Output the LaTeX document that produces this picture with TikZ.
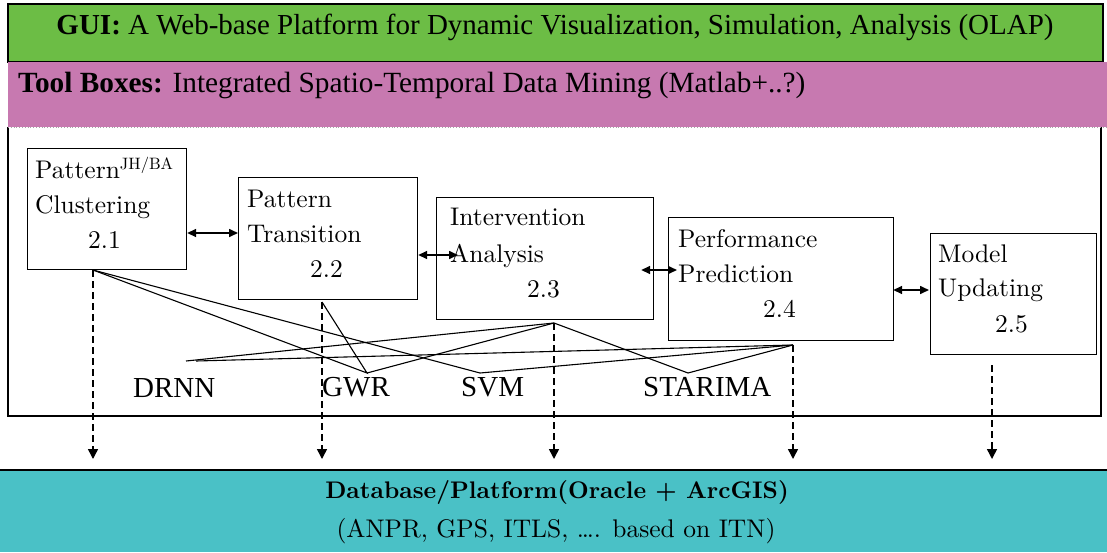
\documentclass[tikz,border=0pt]{standalone}
\usepackage{fontspec}
\setmainfont[Extension=.otf, BoldFont=lmroman10-bold, ItalicFont=lmroman10-italic]{lmroman10-regular}
\newfontfamily\tms{Liberation Serif}
\usetikzlibrary{arrows.meta,calc}
\definecolor{guigreen}{RGB}{108,189,69}
\definecolor{toolpink}{RGB}{199,121,176}
\definecolor{dbteal}{RGB}{74,193,198}
\begin{document}
\begin{tikzpicture}[x=1pt,y=-1pt,
  modbox/.style={draw=black, line width=1.2pt, inner sep=0pt, anchor=north west},
  boxtxt/.style={anchor=base west, inner sep=0pt, font=\fontsize{25.5}{30}\selectfont},
  methtxt/.style={anchor=base west, inner sep=0pt, font=\tms\fontsize{29}{32}\selectfont},
  link/.style={line width=1.1pt, line join=miter},
  dblarrow/.style={line width=1.6pt, {Triangle[length=9pt,width=8pt]}-{Triangle[length=9pt,width=8pt]}},
  downarrow/.style={line width=1.5pt, dash pattern=on 7pt off 4pt, -{Triangle[length=10pt,width=10pt]}},
]
\useasboundingbox (0,0) rectangle (1107,552);
\fill[white] (0,0) rectangle (1107,552);

% GUI band
\draw[fill=guigreen, line width=1.2pt] (8,4) rectangle (1103,62);
\node[anchor=base, inner sep=0pt, font=\tms\fontsize{29}{32}\selectfont] (gui) at (555,34)
  {\textbf{GUI:} A Web-base Platform for Dynamic Visualization, Simulation, Analysis (OLAP)};

% Tool boxes band
\fill[toolpink] (8,62) rectangle (1107,127);
\node[anchor=base west, inner sep=0pt, font=\tms\fontsize{29.3}{32}\selectfont] (tools) at (18,92)
  {\textbf{Tool Boxes:} Integrated Spatio-Temporal Data Mining (Matlab+..?)};

% big frame
\draw[line width=1.2pt] (8,127) -- (8,416) -- (1101,416) -- (1101,127);
\draw[gray!70, line width=0.8pt, dotted] (8,127) -- (1107,127);

% database band
\fill[dbteal] (0,470) rectangle (1107,552);
\draw[line width=1.5pt] (0,470) -- (1107,470);
\node[anchor=base, inner sep=0pt, font=\bfseries\fontsize{24}{28}\selectfont] (db) at (557,498)
  {Database/Platform(Oracle + ArcGIS)};
\node[anchor=base, inner sep=0pt, font=\fontsize{25.5}{28}\selectfont] (dbsub) at (556,537)
  {(ANPR, GPS, ITLS, …. based on ITN)};

% modules
\node[modbox, minimum width=159pt, minimum height=121pt] (m1) at (27,148) {};
\node[modbox, minimum width=179pt, minimum height=122pt] (m2) at (238,177) {};
\node[modbox, minimum width=217pt, minimum height=122pt] (m3) at (436,197) {};
\node[modbox, minimum width=225pt, minimum height=123pt] (m4) at (668,217) {};
\node[modbox, minimum width=166pt, minimum height=121pt] (m5) at (930,233) {};

\node[boxtxt] (t1a) at (35,178) {Pattern\raisebox{9pt}{\fontsize{16.5}{16.5}\selectfont JH/BA}};
\node[boxtxt] (t1b) at (35,213) {Clustering};
\node[boxtxt] (t1c) at (88,248) {2.1};
\node[boxtxt] (t2a) at (247,207) {Pattern};
\node[boxtxt] (t2b) at (247,242) {Transition};
\node[boxtxt] (t2c) at (310,277) {2.2};
\node[boxtxt] (t3a) at (450,225) {Intervention};
\node[boxtxt] (t3b) at (450,262) {Analysis};
\node[boxtxt] (t3c) at (527,297) {2.3};
\node[boxtxt] (t4a) at (678,247) {Performance};
\node[boxtxt] (t4b) at (678,282) {Prediction};
\node[boxtxt] (t4c) at (763,317) {2.4};
\node[boxtxt] (t5a) at (938,262) {Model};
\node[boxtxt] (t5b) at (938,296) {Updating};
\node[boxtxt] (t5c) at (995,332) {2.5};

% double arrows between modules
\draw[dblarrow] ($(m1.north east)+(0,85)$) -- ($(m2.north west)+(0,56)$);
\draw[dblarrow] ($(m2.north east)+(0,78)$) -- ($(m3.north west)+(22,58)$);
\draw[dblarrow] ($(m3.north east)+(-13,73)$) -- ($(m4.north west)+(9,53)$);
\draw[dblarrow] ($(m4.north east)+(-1,73)$) -- ($(m5.north west)+(-1,57)$);

% method labels
\node[methtxt] (drnn) at (133,397) {DRNN};
\node[methtxt] (gwr) at (322,396) {GWR};
\node[methtxt] (svm) at (461,396) {SVM};
\node[methtxt] (starima) at (643,396) {STARIMA};

% tap points and apexes
\coordinate (pA) at (93,270);
\coordinate (pB) at (322,302);
\coordinate (pC) at (554,323);
\coordinate (pD) at (793,345);
\coordinate (pE) at (992,365);
\coordinate (drnnC) at (186,361);
\coordinate (drnnD) at (196,361);
\coordinate (gwrX) at (367,373);
\coordinate (svmX) at (480,373);
\coordinate (starX) at (688,373);

\coordinate (qA) at (93,459);
\coordinate (qB) at (322,459);
\coordinate (qC) at (554,459);
\coordinate (qD) at (793,459);
\coordinate (qE) at (992,459);

% links
\draw[link] (pA) -- (gwrX) -- (pB);
\draw[link] (gwrX) -- (pC);
\draw[link] (pA) -- (svmX) -- (pD);
\draw[link] (drnnC) -- (pC);
\draw[link] (drnnD) -- (pD);
\draw[link] (pC) -- (starX) -- (pD);

% dashed arrows to database
\draw[downarrow] (pA) -- (qA);
\draw[downarrow] (pB) -- (qB);
\draw[downarrow] (pC) -- (qC);
\draw[downarrow] (pD) -- (qD);
\draw[downarrow] (pE) -- (qE);
\end{tikzpicture}
\end{document}
